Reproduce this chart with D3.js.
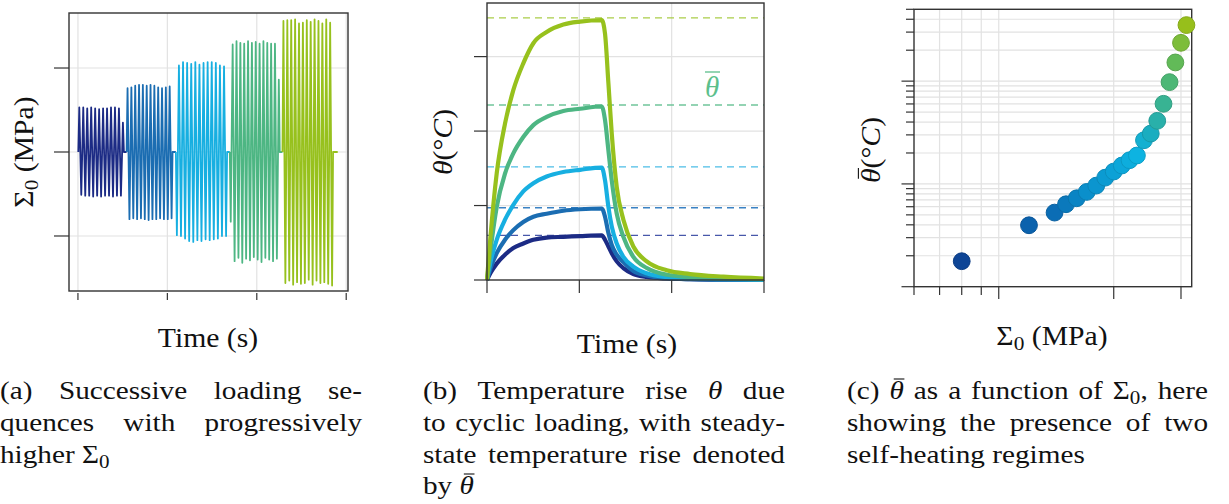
<!DOCTYPE html>
<html>
<head>
<meta charset="utf-8">
<script src="https://cdn.jsdelivr.net/npm/d3@7"></script>
<style>
  html, body { margin: 0; background: #fff; }
  svg { display: block; font-family: "Liberation Serif", "DejaVu Serif", serif; }
</style>
</head>
<body>
<svg id="fig" width="1229" height="504"></svg>
<script>
// ─── Data: (a) loading sequences ─────────────────────────────────────────────
const seqStart  = [0.4, 54.4, 109.5, 169.8, 228.7];
const seqEnd    = [51.4, 105.8, 166.8, 225.7, 285.3];
const signalEnd = 290.5;
const peaks1 = [0.53,-0.51,0.53,-0.52,0.52,-0.52,0.53,-0.53,0.52,-0.52,0.51,-0.53,0.52,-0.52,0.52,-0.52,0.53,-0.53,0.53,-0.52,0.52,-0.52,0.35];
const peaks2 = [0.76,-0.80,0.77,-0.79,0.79,-0.80,0.80,-0.79,0.80,-0.80,0.79,-0.81,0.80,-0.80,0.79,-0.80,0.77,-0.79,0.76,-0.80,0.77,-0.80,0.78,-0.79];
const peaks3 = [-0.99,1.03,-1.00,1.07,-1.03,1.06,-1.06,1.05,-1.07,1.07,-1.05,1.04,-1.06,1.06,-1.04,1.07,-1.05,1.07,-1.04,1.06,-1.03,1.03,-1.00,1.02,-1.00];
const peaks4 = [-0.83,1.28,-1.30,1.32,-1.26,1.30,-1.32,1.29,-1.27,1.32,-1.29,1.30,-1.25,1.31,-1.28,1.29,-1.31,1.32,-1.26,1.30,-1.28,1.29,-1.30,1.29,-1.27,0.86];
const peaks5 = [1.56,-1.56,1.57,-1.53,1.57,-1.58,1.58,-1.55,1.53,-1.57,1.54,-1.56,1.57,-1.52,1.55,-1.58,1.58,-1.53,1.56,-1.56,1.53,-1.55,1.58,-1.57,1.54,-1.59];
const timeTicksA   = [0, 100, 200, 300];
const stressTicks  = [-1, 0, 1];

// ─── Data: (b) temperature rise ──────────────────────────────────────────────
const riseTime  = [0, 0.036, 0.105, 0.195, 0.285, 0.393, 0.502, 0.646, 0.827, 1.008, 1.243];
const decayTime = [1.243, 1.278, 1.315, 1.351, 1.405, 1.477, 1.585, 1.730, 1.947, 2.199, 2.560, 3.0];
const riseNavy  = [0, 0.09, 0.22, 0.34, 0.43, 0.49, 0.54, 0.57, 0.58, 0.59, 0.60];
const riseBlue  = [0, 0.15, 0.36, 0.54, 0.67, 0.78, 0.85, 0.89, 0.93, 0.95, 0.96];
const riseCyan  = [0, 0.23, 0.54, 0.81, 1.01, 1.19, 1.30, 1.39, 1.45, 1.48, 1.51];
const riseGreen = [0, 0.38, 0.98, 1.43, 1.70, 1.92, 2.08, 2.19, 2.27, 2.30, 2.33];
const riseLime  = [0, 0.56, 1.43, 2.10, 2.55, 2.91, 3.18, 3.33, 3.43, 3.47, 3.49];
const decayNavy  = [0.60, 0.54, 0.45, 0.36, 0.25, 0.16, 0.08, 0.04, 0.02, 0.01, 0.005, 0.0];
const decayBlue  = [0.96, 0.85, 0.63, 0.47, 0.34, 0.24, 0.12, 0.06, 0.02, 0.01, 0.005, 0.0];
const decayCyan  = [1.51, 1.34, 0.98, 0.72, 0.49, 0.31, 0.18, 0.09, 0.04, 0.02, 0.01, 0.005];
const decayGreen = [2.33, 2.15, 1.74, 1.34, 0.89, 0.58, 0.31, 0.16, 0.07, 0.04, 0.02, 0.01];
const decayLime  = [3.49, 3.31, 2.64, 1.97, 1.25, 0.81, 0.45, 0.25, 0.13, 0.08, 0.045, 0.02];
const steadyTheta = [0.60, 0.97, 1.52, 2.35, 3.52];
const timeTicksB  = [0, 1, 2, 3];
const thetaTicks  = [0, 1, 2, 3];

// ─── Data: (c) steady-state rise vs stress amplitude ─────────────────────────
const sigma0   = [8, 12, 14, 15, 16, 17, 18, 19, 20, 21, 22, 23, 24, 25, 26, 27, 28, 29, 30, 31];
const thetaBar = [0.177, 0.396, 0.526, 0.634, 0.725, 0.836, 0.963, 1.15, 1.32, 1.51, 1.70, 1.89, 2.66, 3.09, 4.11, 6.02, 9.78, 15.2, 23.6, 35.1];
const sigmaTicks    = [6, 7, 8, 9, 10, 20, 30];
const sigmaMajor    = [10, 20, 30];
const thetaBarTicks = [0.1,0.2,0.3,0.4,0.5,0.6,0.7,0.8,0.9,1,2,3,4,5,6,7,8,9,10,20,30,40,50];
const thetaBarMajor = [0.1, 1, 10];

// ─── Styles ──────────────────────────────────────────────────────────────────
const seqColors    = ['#1c2b85', '#1b6db2', '#17afe1', '#4db683', '#97c11d'];
const dashColors   = ['#4858aa', '#3a82c4', '#4cbde6', '#70c59a', '#aacd48'];
const GRID  = '#e2e2e2';
const FRAME = '#333';
const LABEL_SIZE = 27, LABEL_SX = 1.1;   // Times is narrower than the CM font of the reference
const CAP_SIZE   = 25, CAP_SX   = 1.17;

const svg = d3.select('#fig');

// ─── Math-ish text helpers ───────────────────────────────────────────────────
function parseSegs(str) {
  const segs = [];
  str.replace(/\{([ibs]):([^}]*)\}|([^{]+)/g, (m, type, val, plain) => {
    segs.push(plain !== undefined ? [plain, ''] : [val, type]);
  });
  return segs;
}

function mathText(parent, str, size) {
  const t = parent.append('text').attr('font-size', size).attr('fill', '#111');
  const bars = [];
  let idx = 0, shifted = false;
  parseSegs(str).forEach(([s, type]) => {
    const ts = t.append('tspan').text(s);
    if (type === 'i' || type === 'b') ts.attr('font-style', 'italic');
    if (type === 'b') bars.push(idx);
    if (type === 's') { ts.attr('font-size', size * 0.72).attr('dy', size * 0.2); shifted = true; }
    else if (shifted) { ts.attr('dy', -size * 0.2); shifted = false; }
    idx += s.length;
  });
  return { t, bars };
}

function drawBars(parent, m, size, color) {
  m.bars.forEach(i => {
    const r = m.t.node().getExtentOfChar(i);
    parent.append('line')
      .attr('x1', r.x + r.width * 0.3).attr('x2', r.x + r.width + 0.5)
      .attr('y1', -size * 0.8).attr('y2', -size * 0.8)
      .attr('stroke', color || '#111').attr('stroke-width', 1.1);
  });
}

// text whose baseline origin is (x, y); stretched along the writing direction
function stretchedText(str, x, y, size, sx, anchor, rotate) {
  const g = svg.append('g')
    .attr('transform', `translate(${x},${y})${rotate ? ' rotate(-90)' : ''} scale(${sx},1)`);
  const m = mathText(g, str, size);
  m.t.attr('text-anchor', anchor);
  drawBars(g, m, size);
  return { g, m, width: m.t.node().getComputedTextLength() * sx };
}

function label(str, x, y, rotate) {
  return stretchedText(str, x, y, LABEL_SIZE, LABEL_SX, 'middle', rotate);
}

// ─── Panel (a) ───────────────────────────────────────────────────────────────
const xA = d3.scaleLinear().domain([-10, 302]).range([69, 348]);
const yA = d3.scaleLinear().domain([-1.655, 1.655]).range([291, 13]);
const gA = svg.append('g');

gA.selectAll('.gx').data(timeTicksA).join('line')
  .attr('x1', d => xA(d)).attr('x2', d => xA(d)).attr('y1', 13).attr('y2', 291)
  .attr('stroke', GRID).attr('stroke-width', 1.2);
gA.selectAll('.gy').data(stressTicks).join('line').attr('class', 'gy')
  .attr('x1', 69).attr('x2', 348).attr('y1', d => yA(d)).attr('y2', d => yA(d))
  .attr('stroke', GRID).attr('stroke-width', 1.2);

const allPeaks = [peaks1, peaks2, peaks3, peaks4, peaks5];
const lineA = d3.line().x(d => xA(d[0])).y(d => yA(d[1]));
allPeaks.forEach((peaks, k) => {
  const t0 = seqStart[k], t1 = seqEnd[k];
  const step = (t1 - t0) / peaks.length;
  const next = k < seqStart.length - 1 ? seqStart[k + 1] : signalEnd;
  const pts = [[t0, 0]].concat(peaks.map((p, i) => [t0 + (i + 0.5) * step, p]), [[t1, 0], [next, 0]]);
  gA.append('path').attr('d', lineA(pts))
    .attr('fill', 'none').attr('stroke', seqColors[k])
    .attr('stroke-width', 1.8).attr('stroke-linejoin', 'round');
});

gA.append('rect').attr('x', 69).attr('y', 13).attr('width', 279).attr('height', 278)
  .attr('fill', 'none').attr('stroke', FRAME).attr('stroke-width', 1.4);
gA.selectAll('.ty').data(stressTicks).join('line')
  .attr('x1', 54).attr('x2', 69).attr('y1', d => yA(d)).attr('y2', d => yA(d))
  .attr('stroke', FRAME).attr('stroke-width', 1.2);
gA.selectAll('.tx').data(timeTicksA).join('line')
  .attr('x1', d => xA(d)).attr('x2', d => xA(d)).attr('y1', 293).attr('y2', 300)
  .attr('stroke', FRAME).attr('stroke-width', 1.2);

label('Time (s)', 208, 347);
label('Σ{s:0} (MPa)', 33, 152, true);

// ─── Panel (b) ───────────────────────────────────────────────────────────────
const xB = d3.scaleLinear().domain([0, 3]).range([487, 764]);
const yB = d3.scaleLinear().domain([0, 3.72]).range([280, 3]);
const gB = svg.append('g');

gB.selectAll('.gx').data(timeTicksB.slice(1, 3)).join('line')
  .attr('x1', d => xB(d)).attr('x2', d => xB(d)).attr('y1', 3).attr('y2', 280)
  .attr('stroke', GRID).attr('stroke-width', 1.2);
gB.selectAll('.gy').data(thetaTicks.slice(1)).join('line').attr('class', 'gy')
  .attr('x1', 487).attr('x2', 764).attr('y1', d => yB(d)).attr('y2', d => yB(d))
  .attr('stroke', GRID).attr('stroke-width', 1.2);

gB.selectAll('.dash').data(steadyTheta).join('line')
  .attr('x1', 487).attr('x2', 764).attr('y1', d => yB(d)).attr('y2', d => yB(d))
  .attr('stroke', (d, i) => dashColors[i]).attr('stroke-width', 1.3)
  .attr('stroke-dasharray', '7,5');

const rises  = [riseNavy, riseBlue, riseCyan, riseGreen, riseLime];
const decays = [decayNavy, decayBlue, decayCyan, decayGreen, decayLime];
const lineB = d3.line().x(d => xB(d[0])).y(d => yB(d[1])).curve(d3.curveMonotoneX);
rises.forEach((rise, k) => {
  const pts = rise.map((v, i) => [riseTime[i], v])
    .concat(decays[k].slice(1).map((v, i) => [decayTime[i + 1], v]));
  gB.append('path').attr('d', lineB(pts))
    .attr('fill', 'none').attr('stroke', seqColors[k]).attr('stroke-width', 4.2)
    .attr('stroke-linejoin', 'round');
});

gB.append('rect').attr('x', 487).attr('y', 3).attr('width', 277).attr('height', 277)
  .attr('fill', 'none').attr('stroke', FRAME).attr('stroke-width', 1.4);
gB.selectAll('.ty').data(thetaTicks).join('line')
  .attr('x1', 474).attr('x2', 487).attr('y1', d => yB(d)).attr('y2', d => yB(d))
  .attr('stroke', FRAME).attr('stroke-width', 1.2);
gB.selectAll('.tx').data(timeTicksB).join('line')
  .attr('x1', d => xB(d)).attr('x2', d => xB(d)).attr('y1', 280).attr('y2', 293)
  .attr('stroke', FRAME).attr('stroke-width', 1.2);

// θ̄ annotation
const annG = svg.append('g').attr('transform', 'translate(712,97)');
const ann = mathText(annG, '{i:θ}', 29);
ann.t.attr('text-anchor', 'middle').attr('fill', '#5cbf8c');
annG.append('line').attr('x1', -7).attr('x2', 8).attr('y1', -25).attr('y2', -25)
  .attr('stroke', '#5cbf8c').attr('stroke-width', 1.3);

label('Time (s)', 627, 353);
label('{i:θ}(°{i:C})', 452, 142, true);

// ─── Panel (c) ───────────────────────────────────────────────────────────────
const xC = d3.scaleLog().domain([6, 32]).range([914, 1191.7]);
const yC = d3.scaleLog().domain([0.1, 50]).range([286.7, 9.3]);
const gC = svg.append('g');

gC.selectAll('.gx').data(sigmaTicks.slice(1)).join('line')
  .attr('x1', d => xC(d)).attr('x2', d => xC(d)).attr('y1', 9.3).attr('y2', 286.7)
  .attr('stroke', GRID).attr('stroke-width', 1.2);
gC.selectAll('.gy').data(thetaBarTicks.slice(1, -1)).join('line').attr('class', 'gy')
  .attr('x1', 914).attr('x2', 1191.7).attr('y1', d => yC(d)).attr('y2', d => yC(d))
  .attr('stroke', GRID).attr('stroke-width', 1.2);

gC.append('rect').attr('x', 914).attr('y', 9.3).attr('width', 277.7).attr('height', 277.4)
  .attr('fill', 'none').attr('stroke', FRAME).attr('stroke-width', 1.4);
gC.selectAll('.ty').data(thetaBarTicks).join('line')
  .attr('x1', d => thetaBarMajor.includes(d) ? 901.5 : 906).attr('x2', 914)
  .attr('y1', d => yC(d)).attr('y2', d => yC(d))
  .attr('stroke', FRAME).attr('stroke-width', 1.2);
gC.selectAll('.tx').data(sigmaTicks).join('line')
  .attr('x1', d => xC(d)).attr('x2', d => xC(d))
  .attr('y1', 286.7).attr('y2', d => sigmaMajor.includes(d) ? 299 : 295)
  .attr('stroke', FRAME).attr('stroke-width', 1.2);

const ptColor = d3.scaleLinear()
  .domain([0, 1, 5, 11, 13, 15, 17, 19])
  .range(['#0e4596', '#0b62ad', '#0a8fcb', '#0db3e1', '#1aadc0', '#38b393', '#62ba58', '#97bf1b'])
  .interpolate(d3.interpolateRgb);

gC.selectAll('circle').data(sigma0).join('circle')
  .attr('cx', d => xC(d)).attr('cy', (d, i) => yC(thetaBar[i]))
  .attr('r', 8.4)
  .attr('fill', (d, i) => ptColor(i))
  .attr('stroke', (d, i) => d3.color(ptColor(i)).darker(0.35))
  .attr('stroke-width', 1);

label('Σ{s:0} (MPa)', 1052, 345);
label('{b:θ}(°{i:C})', 880, 150, true);

// ─── Captions (justified) ────────────────────────────────────────────────────
const captions = [
  { x0: 0,   x1: 362,  lines: ['(a) Successive loading se-', 'quences with progressively', 'higher Σ{s:0}'] },
  { x0: 423, x1: 785,  lines: ['(b) Temperature rise {i:θ} due', 'to cyclic loading, with steady-', 'state temperature rise denoted', 'by {b:θ}'] },
  { x0: 847, x1: 1208, lines: ['(c) {b:θ} as a function of Σ{s:0}, here', 'showing the presence of two', 'self-heating regimes'] }
];
const baselines = [399, 431, 463, 494];

captions.forEach(cap => {
  cap.lines.forEach((line, li) => {
    const y = baselines[li];
    if (li === cap.lines.length - 1) {
      stretchedText(line, cap.x0, y, CAP_SIZE, CAP_SX, 'start');
      return;
    }
    const words = line.split(' ').map(w => stretchedText(w, 0, y, CAP_SIZE, CAP_SX, 'start'));
    const gap = (cap.x1 - cap.x0 - d3.sum(words, w => w.width)) / (words.length - 1);
    let x = cap.x0;
    words.forEach(w => {
      w.g.attr('transform', `translate(${x},${y}) scale(${CAP_SX},1)`);
      x += w.width + gap;
    });
  });
});
</script>
</body>
</html>
